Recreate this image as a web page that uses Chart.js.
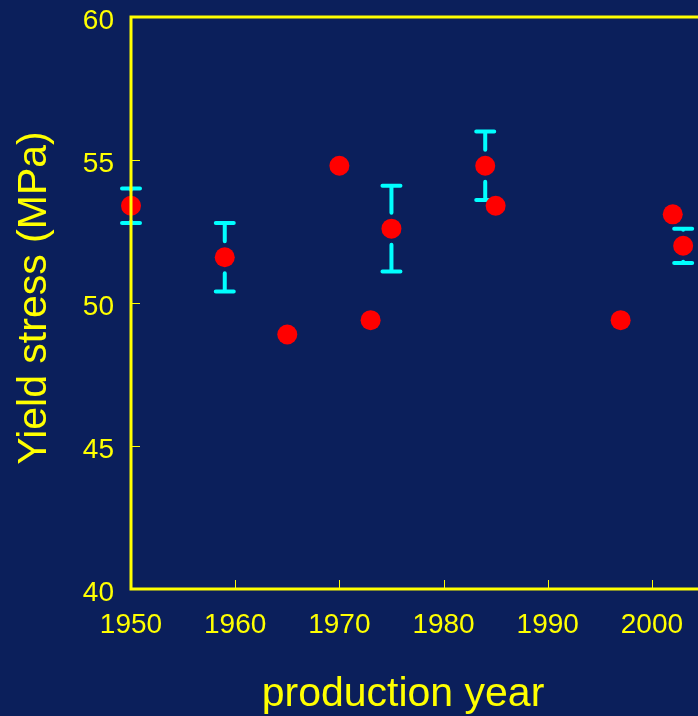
<!DOCTYPE html>
<html>
<head>
<meta charset="utf-8">
<script src="https://cdn.jsdelivr.net/npm/chart.js@4.4.0/dist/chart.umd.min.js"></script>
<style>
    html, body { margin: 0; padding: 0; background: #0b1f5b; overflow: hidden; }
    canvas { display: block; }
</style>
</head>
<body>
<canvas id="chart" width="704" height="716"></canvas>
<script>
/*
        Yield stress vs production year. Scatter with a few error bars.
*/

const years = [1950, 1959, 1965, 1970, 1973, 1975, 1984, 1985, 1997, 2002, 2003];
const stress = [53.4, 51.6, 48.9, 54.8, 49.4, 52.6, 54.8, 53.4, 49.4, 53.1, 52.0];
// half-width of the error bar, null where the point has none
const stressErr = [0.6, 1.2, null, null, null, 1.5, 1.2, null, null, null, 0.6];

const xTicks = [1950, 1960, 1970, 1980, 1990, 2000];
const yTicks = [40, 45, 50, 55, 60];

const yellow = "#ffff00";
const cyan = "#00ffff";
const fontFamily = '"Liberation Sans", Arial, sans-serif';

// Error bars, drawn under the points, with a small gap round each marker
const errorBars = {
    id: "errorBars",
    beforeDatasetsDraw(chart) {
        const ctx = chart.ctx;
        const xs = chart.scales.x;
        const ys = chart.scales.y;
        const gap = 16;
        const capHalf = 9;

        ctx.save();
        ctx.strokeStyle = cyan;
        ctx.lineWidth = 4;
        ctx.lineCap = "round";
        for (let i = 0; i < years.length; i++) {
            if (stressErr[i] == null) continue;
            const x = xs.getPixelForValue(years[i]);
            const yc = ys.getPixelForValue(stress[i]);
            const yHi = ys.getPixelForValue(stress[i] + stressErr[i]);
            const yLo = ys.getPixelForValue(stress[i] - stressErr[i]);

            ctx.beginPath();
            ctx.moveTo(x, yHi);
            ctx.lineTo(x, Math.max(yHi, yc - gap));
            ctx.moveTo(x, yLo);
            ctx.lineTo(x, Math.min(yLo, yc + gap));
            ctx.moveTo(x - capHalf, yHi);
            ctx.lineTo(x + capHalf, yHi);
            ctx.moveTo(x - capHalf, yLo);
            ctx.lineTo(x + capHalf, yLo);
            ctx.stroke();
        }
        ctx.restore();
    }
};

// Frame and inward ticks, drawn over the points like the original
const frame = {
    id: "frame",
    afterDatasetsDraw(chart) {
        const ctx = chart.ctx;
        const a = chart.chartArea;
        const xs = chart.scales.x;
        const ys = chart.scales.y;

        ctx.save();
        ctx.strokeStyle = yellow;
        ctx.lineWidth = 1;
        ctx.beginPath();
        xTicks.forEach((v) => {
            const x = Math.round(xs.getPixelForValue(v)) + 0.5;
            ctx.moveTo(x, a.bottom);
            ctx.lineTo(x, a.bottom - 9);
        });
        yTicks.forEach((v) => {
            const y = Math.round(ys.getPixelForValue(v)) + 0.5;
            ctx.moveTo(a.left, y);
            ctx.lineTo(a.left + 9, y);
        });
        ctx.stroke();

        ctx.lineWidth = 3;
        ctx.lineCap = "square";
        ctx.beginPath();
        ctx.moveTo(a.right + 5, a.top);
        ctx.lineTo(a.left, a.top);
        ctx.lineTo(a.left, a.bottom);
        ctx.lineTo(a.right + 5, a.bottom);
        ctx.stroke();
        ctx.restore();
    }
};

// Axis titles
const axisTitles = {
    id: "axisTitles",
    afterDraw(chart) {
        const ctx = chart.ctx;

        ctx.save();
        ctx.fillStyle = yellow;
        ctx.font = "41px " + fontFamily;
        ctx.textAlign = "center";
        ctx.textBaseline = "alphabetic";
        ctx.fillText("production year", 403, 706);

        ctx.translate(46, 298);
        ctx.rotate(-Math.PI / 2);
        ctx.fillText("Yield stress (MPa)", 0, 0);
        ctx.restore();
    }
};

// keep the plot box where it is in the original, labels may overhang it
function noPadding(s) {
    s.paddingTop = 0;
    s.paddingBottom = 0;
    s.paddingLeft = 0;
    s.paddingRight = 0;
}

const ctx = document.getElementById("chart").getContext("2d");

new Chart(ctx, {
    type: "scatter",
    data: {
        datasets: [
            {
                data: years.map((y, i) => ({ x: y, y: stress[i] })),
                backgroundColor: "#ff0000",
                borderWidth: 0,
                pointRadius: 10,
                pointHoverRadius: 10,
                clip: false,
            },
        ],
    },
    options: {
        responsive: false,
        animation: false,
        events: [],
        layout: { autoPadding: false, padding: { top: 17, right: 0, bottom: 0, left: 0 } },
        plugins: {
            legend: { display: false },
            tooltip: { enabled: false },
        },
        scales: {
            x: {
                type: "linear",
                min: 1950,
                max: 2005,
                grid: { display: false },
                border: { display: false },
                ticks: {
                    stepSize: 10,
                    includeBounds: false,
                    color: yellow,
                    padding: 11,
                    maxRotation: 0,
                    font: { family: fontFamily, size: 28 },
                    callback: (v) => String(v),
                },
                afterFit: (s) => { s.height = 127; noPadding(s); },
            },
            y: {
                min: 40,
                max: 60,
                grid: { display: false },
                border: { display: false },
                ticks: {
                    stepSize: 5,
                    color: yellow,
                    padding: 9,
                    labelOffset: 4,
                    font: { family: fontFamily, size: 28 },
                },
                afterFit: (s) => { s.width = 131; noPadding(s); },
            },
        },
    },
    plugins: [errorBars, frame, axisTitles],
});
</script>
</body>
</html>
